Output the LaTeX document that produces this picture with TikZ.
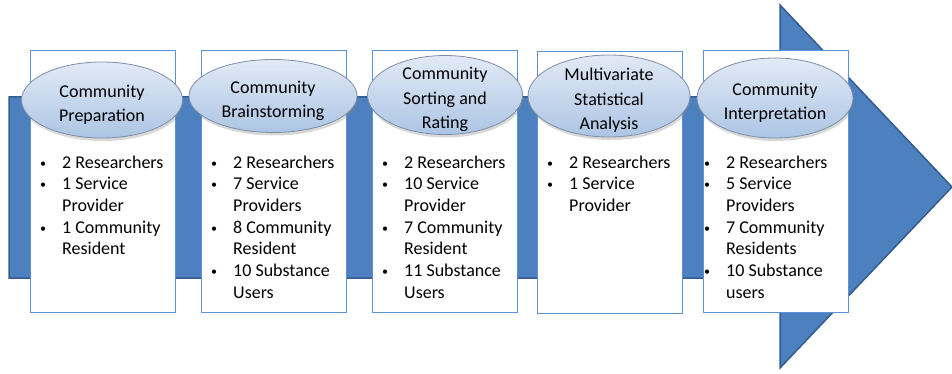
\documentclass[tikz,border=0pt]{standalone}
\usepackage{fontspec}
\setmainfont{Carlito}
\usetikzlibrary{shapes.geometric,shadows}
\definecolor{arrowblue}{RGB}{76,128,190}
\definecolor{arrowedge}{RGB}{52,92,142}
\definecolor{boxedge}{RGB}{91,145,213}
\definecolor{elltop}{RGB}{226,234,246}
\definecolor{ellbot}{RGB}{172,197,228}
\definecolor{elledge}{RGB}{125,142,168}
\newcommand{\bul}{\llap{\raisebox{1pt}{\fontsize{12}{12}\selectfont\textbullet}\hspace{16pt}}}
\newcommand{\elltext}[1]{\smash{\makebox[0pt]{\raisebox{-4.5pt}{\begin{tabular}{@{}c@{}}\rule{0pt}{25.5pt}#1\end{tabular}}}}}
\begin{document}
\begin{tikzpicture}[x=1pt,y=-1pt,
  stagebox/.style={draw=boxedge,line width=1pt,fill=white,minimum width=145pt,minimum height=262pt,inner sep=0pt,anchor=north west},
  stageoval/.style={ellipse,draw=elledge,line width=0.8pt,top color=elltop,bottom color=ellbot,minimum width=160pt,minimum height=78pt,inner sep=0pt,font=\fontsize{18}{24.5}\selectfont,drop shadow={opacity=0.3,shadow xshift=1pt,shadow yshift=-3pt}},
  plist/.style={anchor=base west,inner sep=0pt,font=\fontsize{18}{21.7}\selectfont}]
\useasboundingbox (0,0) rectangle (952,374);
% big arrow
\filldraw[fill=arrowblue,draw=arrowedge,line width=1.5pt,line join=miter]
  (9,97) -- (780,97) -- (780,5) -- (952,187) -- (780,368) -- (780,278) -- (9,278) -- cycle;
% boxes
\node[stagebox] (a1) at (30,50) {};
\node[stagebox] (a2) at (201,50) {};
\node[stagebox] (a3) at (372,50) {};
\node[stagebox] (a4) at (537,51) {};
\node[stagebox] (a5) at (703,50) {};
% ellipses
\node[stageoval,minimum width=161pt,minimum height=76pt] (e1) at (102,100) {\elltext{Community\\Preparation}};
\node[stageoval,minimum width=168pt,minimum height=73pt] (e2) at (273,96) {\elltext{Community\\Brainstorming}};
\node[stageoval,minimum width=155pt,minimum height=79pt] (e3) at (445,95) {\elltext{Community\\Sorting and\\Rating}};
\node[stageoval,minimum width=162pt,minimum height=82pt] (e4) at (609,96) {\elltext{Multivariate\\Statistical\\Analysis}};
\node[stageoval,minimum width=156pt,minimum height=80pt] (e5) at (775,98) {\elltext{Community\\Interpretation}};
% lists
\node[plist] (t1) at (62,168) {\begin{tabular}[t]{@{}l@{}}\bul 2 Researchers\\ \bul 1 Service\\ Provider\\ \bul 1 Community\\ Resident\end{tabular}};
\node[plist] (t2) at (233,168) {\begin{tabular}[t]{@{}l@{}}\bul 2 Researchers\\ \bul 7 Service\\ Providers\\ \bul 8 Community\\ Resident\\ \bul 10 Substance\\ Users\end{tabular}};
\node[plist] (t3) at (404,168) {\begin{tabular}[t]{@{}l@{}}\bul 2 Researchers\\ \bul 10 Service\\ Provider\\ \bul 7 Community\\ Resident\\ \bul 11 Substance\\ Users\end{tabular}};
\node[plist] (t4) at (569,168) {\begin{tabular}[t]{@{}l@{}}\bul 2 Researchers\\ \bul 1 Service\\ Provider\end{tabular}};
\node[plist] (t5) at (726,168) {\begin{tabular}[t]{@{}l@{}}\bul 2 Researchers\\ \bul 5 Service\\ Providers\\ \bul 7 Community\\ Residents\\ \bul 10 Substance\\ users\end{tabular}};
\end{tikzpicture}
\end{document}
